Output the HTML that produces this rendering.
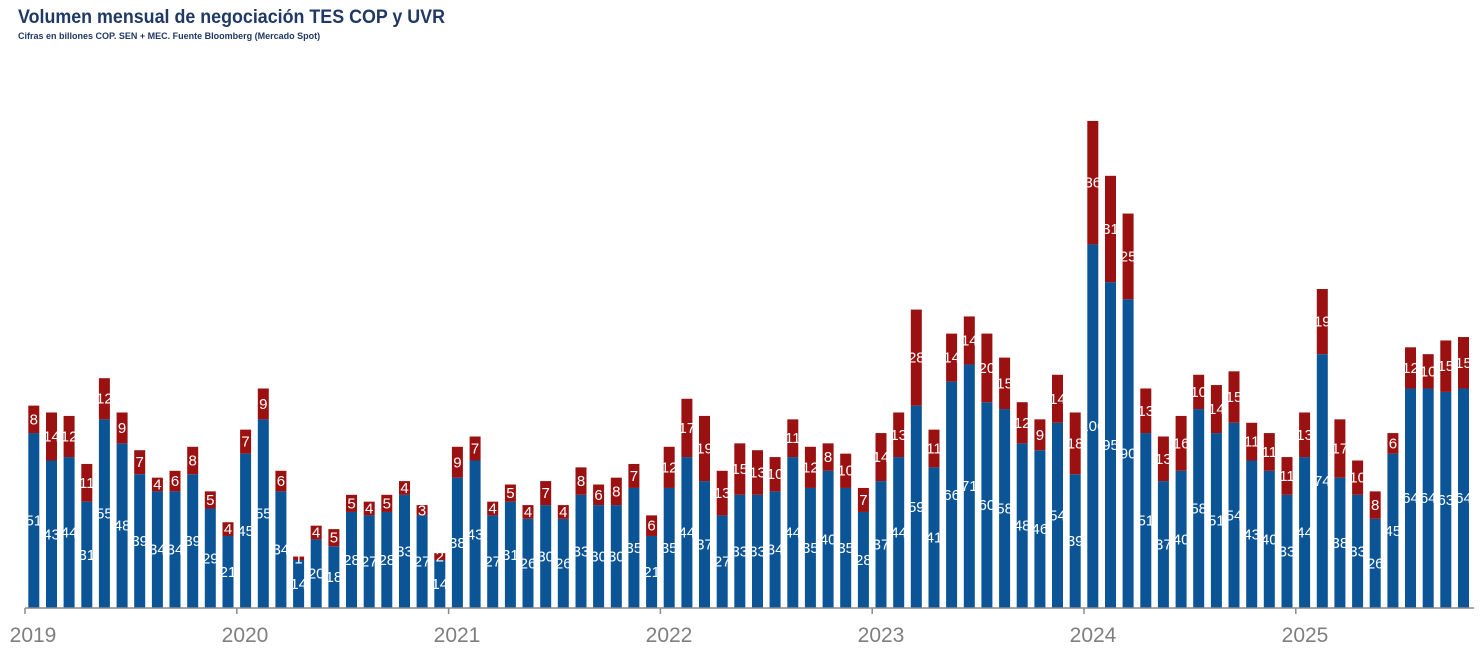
<!DOCTYPE html>
<html><head><meta charset="utf-8"><style>
body{margin:0;background:#fff;width:1482px;height:662px;overflow:hidden}
svg{display:block;font-family:"Liberation Sans",sans-serif}
.t{fill:#fff;font-size:15px;text-anchor:middle}
.y{fill:#7f7f7f;font-size:21px;text-anchor:middle}
.b{fill:#0b5596}.r{fill:#9b1111}
</style></head><body>
<svg width="1482" height="662" viewBox="0 0 1482 662" xmlns="http://www.w3.org/2000/svg">
<text x="18" y="23" font-size="19" font-weight="bold" fill="#1f3864" textLength="427" lengthAdjust="spacingAndGlyphs">Volumen mensual de negociación TES COP y UVR</text>
<text x="18" y="39" font-size="9" font-weight="bold" fill="#1f3864">Cifras en billones COP. SEN + MEC. Fuente Bloomberg (Mercado Spot)</text>
<g id="bars">
<g transform="translate(33.8,608) scale(1,-3.43)"><rect class="b" x="-5.5" width="11" height="51"/><rect class="r" x="-5.5" y="51" width="11" height="8"/></g>
<g transform="translate(51.5,608) scale(1,-3.43)"><rect class="b" x="-5.5" width="11" height="43"/><rect class="r" x="-5.5" y="43" width="11" height="14"/></g>
<g transform="translate(69.1,608) scale(1,-3.43)"><rect class="b" x="-5.5" width="11" height="44"/><rect class="r" x="-5.5" y="44" width="11" height="12"/></g>
<g transform="translate(86.8,608) scale(1,-3.43)"><rect class="b" x="-5.5" width="11" height="31"/><rect class="r" x="-5.5" y="31" width="11" height="11"/></g>
<g transform="translate(104.4,608) scale(1,-3.43)"><rect class="b" x="-5.5" width="11" height="55"/><rect class="r" x="-5.5" y="55" width="11" height="12"/></g>
<g transform="translate(122.1,608) scale(1,-3.43)"><rect class="b" x="-5.5" width="11" height="48"/><rect class="r" x="-5.5" y="48" width="11" height="9"/></g>
<g transform="translate(139.7,608) scale(1,-3.43)"><rect class="b" x="-5.5" width="11" height="39"/><rect class="r" x="-5.5" y="39" width="11" height="7"/></g>
<g transform="translate(157.4,608) scale(1,-3.43)"><rect class="b" x="-5.5" width="11" height="34"/><rect class="r" x="-5.5" y="34" width="11" height="4"/></g>
<g transform="translate(175.0,608) scale(1,-3.43)"><rect class="b" x="-5.5" width="11" height="34"/><rect class="r" x="-5.5" y="34" width="11" height="6"/></g>
<g transform="translate(192.7,608) scale(1,-3.43)"><rect class="b" x="-5.5" width="11" height="39"/><rect class="r" x="-5.5" y="39" width="11" height="8"/></g>
<g transform="translate(210.3,608) scale(1,-3.43)"><rect class="b" x="-5.5" width="11" height="29"/><rect class="r" x="-5.5" y="29" width="11" height="5"/></g>
<g transform="translate(228.0,608) scale(1,-3.43)"><rect class="b" x="-5.5" width="11" height="21"/><rect class="r" x="-5.5" y="21" width="11" height="4"/></g>
<g transform="translate(245.6,608) scale(1,-3.43)"><rect class="b" x="-5.5" width="11" height="45"/><rect class="r" x="-5.5" y="45" width="11" height="7"/></g>
<g transform="translate(263.3,608) scale(1,-3.43)"><rect class="b" x="-5.5" width="11" height="55"/><rect class="r" x="-5.5" y="55" width="11" height="9"/></g>
<g transform="translate(280.9,608) scale(1,-3.43)"><rect class="b" x="-5.5" width="11" height="34"/><rect class="r" x="-5.5" y="34" width="11" height="6"/></g>
<g transform="translate(298.6,608) scale(1,-3.43)"><rect class="b" x="-5.5" width="11" height="14"/><rect class="r" x="-5.5" y="14" width="11" height="1"/></g>
<g transform="translate(316.2,608) scale(1,-3.43)"><rect class="b" x="-5.5" width="11" height="20"/><rect class="r" x="-5.5" y="20" width="11" height="4"/></g>
<g transform="translate(333.9,608) scale(1,-3.43)"><rect class="b" x="-5.5" width="11" height="18"/><rect class="r" x="-5.5" y="18" width="11" height="5"/></g>
<g transform="translate(351.5,608) scale(1,-3.43)"><rect class="b" x="-5.5" width="11" height="28"/><rect class="r" x="-5.5" y="28" width="11" height="5"/></g>
<g transform="translate(369.2,608) scale(1,-3.43)"><rect class="b" x="-5.5" width="11" height="27"/><rect class="r" x="-5.5" y="27" width="11" height="4"/></g>
<g transform="translate(386.8,608) scale(1,-3.43)"><rect class="b" x="-5.5" width="11" height="28"/><rect class="r" x="-5.5" y="28" width="11" height="5"/></g>
<g transform="translate(404.5,608) scale(1,-3.43)"><rect class="b" x="-5.5" width="11" height="33"/><rect class="r" x="-5.5" y="33" width="11" height="4"/></g>
<g transform="translate(422.1,608) scale(1,-3.43)"><rect class="b" x="-5.5" width="11" height="27"/><rect class="r" x="-5.5" y="27" width="11" height="3"/></g>
<g transform="translate(439.8,608) scale(1,-3.43)"><rect class="b" x="-5.5" width="11" height="14"/><rect class="r" x="-5.5" y="14" width="11" height="2"/></g>
<g transform="translate(457.4,608) scale(1,-3.43)"><rect class="b" x="-5.5" width="11" height="38"/><rect class="r" x="-5.5" y="38" width="11" height="9"/></g>
<g transform="translate(475.1,608) scale(1,-3.43)"><rect class="b" x="-5.5" width="11" height="43"/><rect class="r" x="-5.5" y="43" width="11" height="7"/></g>
<g transform="translate(492.7,608) scale(1,-3.43)"><rect class="b" x="-5.5" width="11" height="27"/><rect class="r" x="-5.5" y="27" width="11" height="4"/></g>
<g transform="translate(510.4,608) scale(1,-3.43)"><rect class="b" x="-5.5" width="11" height="31"/><rect class="r" x="-5.5" y="31" width="11" height="5"/></g>
<g transform="translate(528.0,608) scale(1,-3.43)"><rect class="b" x="-5.5" width="11" height="26"/><rect class="r" x="-5.5" y="26" width="11" height="4"/></g>
<g transform="translate(545.7,608) scale(1,-3.43)"><rect class="b" x="-5.5" width="11" height="30"/><rect class="r" x="-5.5" y="30" width="11" height="7"/></g>
<g transform="translate(563.3,608) scale(1,-3.43)"><rect class="b" x="-5.5" width="11" height="26"/><rect class="r" x="-5.5" y="26" width="11" height="4"/></g>
<g transform="translate(581.0,608) scale(1,-3.43)"><rect class="b" x="-5.5" width="11" height="33"/><rect class="r" x="-5.5" y="33" width="11" height="8"/></g>
<g transform="translate(598.6,608) scale(1,-3.43)"><rect class="b" x="-5.5" width="11" height="30"/><rect class="r" x="-5.5" y="30" width="11" height="6"/></g>
<g transform="translate(616.3,608) scale(1,-3.43)"><rect class="b" x="-5.5" width="11" height="30"/><rect class="r" x="-5.5" y="30" width="11" height="8"/></g>
<g transform="translate(633.9,608) scale(1,-3.43)"><rect class="b" x="-5.5" width="11" height="35"/><rect class="r" x="-5.5" y="35" width="11" height="7"/></g>
<g transform="translate(651.6,608) scale(1,-3.43)"><rect class="b" x="-5.5" width="11" height="21"/><rect class="r" x="-5.5" y="21" width="11" height="6"/></g>
<g transform="translate(669.2,608) scale(1,-3.43)"><rect class="b" x="-5.5" width="11" height="35"/><rect class="r" x="-5.5" y="35" width="11" height="12"/></g>
<g transform="translate(686.9,608) scale(1,-3.43)"><rect class="b" x="-5.5" width="11" height="44"/><rect class="r" x="-5.5" y="44" width="11" height="17"/></g>
<g transform="translate(704.5,608) scale(1,-3.43)"><rect class="b" x="-5.5" width="11" height="37"/><rect class="r" x="-5.5" y="37" width="11" height="19"/></g>
<g transform="translate(722.2,608) scale(1,-3.43)"><rect class="b" x="-5.5" width="11" height="27"/><rect class="r" x="-5.5" y="27" width="11" height="13"/></g>
<g transform="translate(739.8,608) scale(1,-3.43)"><rect class="b" x="-5.5" width="11" height="33"/><rect class="r" x="-5.5" y="33" width="11" height="15"/></g>
<g transform="translate(757.5,608) scale(1,-3.43)"><rect class="b" x="-5.5" width="11" height="33"/><rect class="r" x="-5.5" y="33" width="11" height="13"/></g>
<g transform="translate(775.1,608) scale(1,-3.43)"><rect class="b" x="-5.5" width="11" height="34"/><rect class="r" x="-5.5" y="34" width="11" height="10"/></g>
<g transform="translate(792.8,608) scale(1,-3.43)"><rect class="b" x="-5.5" width="11" height="44"/><rect class="r" x="-5.5" y="44" width="11" height="11"/></g>
<g transform="translate(810.4,608) scale(1,-3.43)"><rect class="b" x="-5.5" width="11" height="35"/><rect class="r" x="-5.5" y="35" width="11" height="12"/></g>
<g transform="translate(828.1,608) scale(1,-3.43)"><rect class="b" x="-5.5" width="11" height="40"/><rect class="r" x="-5.5" y="40" width="11" height="8"/></g>
<g transform="translate(845.7,608) scale(1,-3.43)"><rect class="b" x="-5.5" width="11" height="35"/><rect class="r" x="-5.5" y="35" width="11" height="10"/></g>
<g transform="translate(863.4,608) scale(1,-3.43)"><rect class="b" x="-5.5" width="11" height="28"/><rect class="r" x="-5.5" y="28" width="11" height="7"/></g>
<g transform="translate(881.0,608) scale(1,-3.43)"><rect class="b" x="-5.5" width="11" height="37"/><rect class="r" x="-5.5" y="37" width="11" height="14"/></g>
<g transform="translate(898.7,608) scale(1,-3.43)"><rect class="b" x="-5.5" width="11" height="44"/><rect class="r" x="-5.5" y="44" width="11" height="13"/></g>
<g transform="translate(916.3,608) scale(1,-3.43)"><rect class="b" x="-5.5" width="11" height="59"/><rect class="r" x="-5.5" y="59" width="11" height="28"/></g>
<g transform="translate(934.0,608) scale(1,-3.43)"><rect class="b" x="-5.5" width="11" height="41"/><rect class="r" x="-5.5" y="41" width="11" height="11"/></g>
<g transform="translate(951.6,608) scale(1,-3.43)"><rect class="b" x="-5.5" width="11" height="66"/><rect class="r" x="-5.5" y="66" width="11" height="14"/></g>
<g transform="translate(969.3,608) scale(1,-3.43)"><rect class="b" x="-5.5" width="11" height="71"/><rect class="r" x="-5.5" y="71" width="11" height="14"/></g>
<g transform="translate(986.9,608) scale(1,-3.43)"><rect class="b" x="-5.5" width="11" height="60"/><rect class="r" x="-5.5" y="60" width="11" height="20"/></g>
<g transform="translate(1004.6,608) scale(1,-3.43)"><rect class="b" x="-5.5" width="11" height="58"/><rect class="r" x="-5.5" y="58" width="11" height="15"/></g>
<g transform="translate(1022.2,608) scale(1,-3.43)"><rect class="b" x="-5.5" width="11" height="48"/><rect class="r" x="-5.5" y="48" width="11" height="12"/></g>
<g transform="translate(1039.9,608) scale(1,-3.43)"><rect class="b" x="-5.5" width="11" height="46"/><rect class="r" x="-5.5" y="46" width="11" height="9"/></g>
<g transform="translate(1057.5,608) scale(1,-3.43)"><rect class="b" x="-5.5" width="11" height="54"/><rect class="r" x="-5.5" y="54" width="11" height="14"/></g>
<g transform="translate(1075.2,608) scale(1,-3.43)"><rect class="b" x="-5.5" width="11" height="39"/><rect class="r" x="-5.5" y="39" width="11" height="18"/></g>
<g transform="translate(1092.8,608) scale(1,-3.43)"><rect class="b" x="-5.5" width="11" height="106"/><rect class="r" x="-5.5" y="106" width="11" height="36"/></g>
<g transform="translate(1110.5,608) scale(1,-3.43)"><rect class="b" x="-5.5" width="11" height="95"/><rect class="r" x="-5.5" y="95" width="11" height="31"/></g>
<g transform="translate(1128.1,608) scale(1,-3.43)"><rect class="b" x="-5.5" width="11" height="90"/><rect class="r" x="-5.5" y="90" width="11" height="25"/></g>
<g transform="translate(1145.8,608) scale(1,-3.43)"><rect class="b" x="-5.5" width="11" height="51"/><rect class="r" x="-5.5" y="51" width="11" height="13"/></g>
<g transform="translate(1163.4,608) scale(1,-3.43)"><rect class="b" x="-5.5" width="11" height="37"/><rect class="r" x="-5.5" y="37" width="11" height="13"/></g>
<g transform="translate(1181.1,608) scale(1,-3.43)"><rect class="b" x="-5.5" width="11" height="40"/><rect class="r" x="-5.5" y="40" width="11" height="16"/></g>
<g transform="translate(1198.7,608) scale(1,-3.43)"><rect class="b" x="-5.5" width="11" height="58"/><rect class="r" x="-5.5" y="58" width="11" height="10"/></g>
<g transform="translate(1216.4,608) scale(1,-3.43)"><rect class="b" x="-5.5" width="11" height="51"/><rect class="r" x="-5.5" y="51" width="11" height="14"/></g>
<g transform="translate(1234.0,608) scale(1,-3.43)"><rect class="b" x="-5.5" width="11" height="54"/><rect class="r" x="-5.5" y="54" width="11" height="15"/></g>
<g transform="translate(1251.7,608) scale(1,-3.43)"><rect class="b" x="-5.5" width="11" height="43"/><rect class="r" x="-5.5" y="43" width="11" height="11"/></g>
<g transform="translate(1269.3,608) scale(1,-3.43)"><rect class="b" x="-5.5" width="11" height="40"/><rect class="r" x="-5.5" y="40" width="11" height="11"/></g>
<g transform="translate(1287.0,608) scale(1,-3.43)"><rect class="b" x="-5.5" width="11" height="33"/><rect class="r" x="-5.5" y="33" width="11" height="11"/></g>
<g transform="translate(1304.6,608) scale(1,-3.43)"><rect class="b" x="-5.5" width="11" height="44"/><rect class="r" x="-5.5" y="44" width="11" height="13"/></g>
<g transform="translate(1322.3,608) scale(1,-3.43)"><rect class="b" x="-5.5" width="11" height="74"/><rect class="r" x="-5.5" y="74" width="11" height="19"/></g>
<g transform="translate(1339.9,608) scale(1,-3.43)"><rect class="b" x="-5.5" width="11" height="38"/><rect class="r" x="-5.5" y="38" width="11" height="17"/></g>
<g transform="translate(1357.6,608) scale(1,-3.43)"><rect class="b" x="-5.5" width="11" height="33"/><rect class="r" x="-5.5" y="33" width="11" height="10"/></g>
<g transform="translate(1375.2,608) scale(1,-3.43)"><rect class="b" x="-5.5" width="11" height="26"/><rect class="r" x="-5.5" y="26" width="11" height="8"/></g>
<g transform="translate(1392.9,608) scale(1,-3.43)"><rect class="b" x="-5.5" width="11" height="45"/><rect class="r" x="-5.5" y="45" width="11" height="6"/></g>
<g transform="translate(1410.5,608) scale(1,-3.43)"><rect class="b" x="-5.5" width="11" height="64"/><rect class="r" x="-5.5" y="64" width="11" height="12"/></g>
<g transform="translate(1428.2,608) scale(1,-3.43)"><rect class="b" x="-5.5" width="11" height="64"/><rect class="r" x="-5.5" y="64" width="11" height="10"/></g>
<g transform="translate(1445.8,608) scale(1,-3.43)"><rect class="b" x="-5.5" width="11" height="63"/><rect class="r" x="-5.5" y="63" width="11" height="15"/></g>
<g transform="translate(1463.5,608) scale(1,-3.43)"><rect class="b" x="-5.5" width="11" height="64"/><rect class="r" x="-5.5" y="64" width="11" height="15"/></g>
</g>
<g>
<text class="t" x="33.8" y="525.5">51</text><text class="t" x="33.8" y="424.4">8</text>
<text class="t" x="51.5" y="539.3">43</text><text class="t" x="51.5" y="441.5">14</text>
<text class="t" x="69.1" y="537.5">44</text><text class="t" x="69.1" y="441.5">12</text>
<text class="t" x="86.8" y="559.8">31</text><text class="t" x="86.8" y="487.8">11</text>
<text class="t" x="104.4" y="518.7">55</text><text class="t" x="104.4" y="403.7">12</text>
<text class="t" x="122.1" y="530.7">48</text><text class="t" x="122.1" y="433.0">9</text>
<text class="t" x="139.7" y="546.1">39</text><text class="t" x="139.7" y="467.2">7</text>
<text class="t" x="157.4" y="554.7">34</text><text class="t" x="157.4" y="489.5">4</text>
<text class="t" x="175.0" y="554.7">34</text><text class="t" x="175.0" y="486.1">6</text>
<text class="t" x="192.7" y="546.1">39</text><text class="t" x="192.7" y="465.5">8</text>
<text class="t" x="210.3" y="563.3">29</text><text class="t" x="210.3" y="504.9">5</text>
<text class="t" x="228.0" y="577.0">21</text><text class="t" x="228.0" y="534.1">4</text>
<text class="t" x="245.6" y="535.8">45</text><text class="t" x="245.6" y="446.6">7</text>
<text class="t" x="263.3" y="518.7">55</text><text class="t" x="263.3" y="408.9">9</text>
<text class="t" x="280.9" y="554.7">34</text><text class="t" x="280.9" y="486.1">6</text>
<text class="t" x="298.6" y="589.0">14</text><text class="t" x="298.6" y="563.3">1</text>
<text class="t" x="316.2" y="578.7">20</text><text class="t" x="316.2" y="537.5">4</text>
<text class="t" x="333.9" y="582.1">18</text><text class="t" x="333.9" y="542.7">5</text>
<text class="t" x="351.5" y="565.0">28</text><text class="t" x="351.5" y="508.4">5</text>
<text class="t" x="369.2" y="566.7">27</text><text class="t" x="369.2" y="513.5">4</text>
<text class="t" x="386.8" y="565.0">28</text><text class="t" x="386.8" y="508.4">5</text>
<text class="t" x="404.5" y="556.4">33</text><text class="t" x="404.5" y="492.9">4</text>
<text class="t" x="422.1" y="566.7">27</text><text class="t" x="422.1" y="515.3">3</text>
<text class="t" x="439.8" y="589.0">14</text><text class="t" x="439.8" y="561.6">2</text>
<text class="t" x="457.4" y="547.8">38</text><text class="t" x="457.4" y="467.3">9</text>
<text class="t" x="475.1" y="539.3">43</text><text class="t" x="475.1" y="453.5">7</text>
<text class="t" x="492.7" y="566.7">27</text><text class="t" x="492.7" y="513.5">4</text>
<text class="t" x="510.4" y="559.8">31</text><text class="t" x="510.4" y="498.1">5</text>
<text class="t" x="528.0" y="568.4">26</text><text class="t" x="528.0" y="516.9">4</text>
<text class="t" x="545.7" y="561.5">30</text><text class="t" x="545.7" y="498.1">7</text>
<text class="t" x="563.3" y="568.4">26</text><text class="t" x="563.3" y="516.9">4</text>
<text class="t" x="581.0" y="556.4">33</text><text class="t" x="581.0" y="486.1">8</text>
<text class="t" x="598.6" y="561.5">30</text><text class="t" x="598.6" y="499.8">6</text>
<text class="t" x="616.3" y="561.5">30</text><text class="t" x="616.3" y="496.4">8</text>
<text class="t" x="633.9" y="553.0">35</text><text class="t" x="633.9" y="480.9">7</text>
<text class="t" x="651.6" y="577.0">21</text><text class="t" x="651.6" y="530.7">6</text>
<text class="t" x="669.2" y="553.0">35</text><text class="t" x="669.2" y="472.3">12</text>
<text class="t" x="686.9" y="537.5">44</text><text class="t" x="686.9" y="432.9">17</text>
<text class="t" x="704.5" y="549.5">37</text><text class="t" x="704.5" y="453.5">19</text>
<text class="t" x="722.2" y="566.7">27</text><text class="t" x="722.2" y="498.1">13</text>
<text class="t" x="739.8" y="556.4">33</text><text class="t" x="739.8" y="474.1">15</text>
<text class="t" x="757.5" y="556.4">33</text><text class="t" x="757.5" y="477.5">13</text>
<text class="t" x="775.1" y="554.7">34</text><text class="t" x="775.1" y="479.2">10</text>
<text class="t" x="792.8" y="537.5">44</text><text class="t" x="792.8" y="443.2">11</text>
<text class="t" x="810.4" y="553.0">35</text><text class="t" x="810.4" y="472.3">12</text>
<text class="t" x="828.1" y="544.4">40</text><text class="t" x="828.1" y="462.1">8</text>
<text class="t" x="845.7" y="553.0">35</text><text class="t" x="845.7" y="475.7">10</text>
<text class="t" x="863.4" y="565.0">28</text><text class="t" x="863.4" y="505.0">7</text>
<text class="t" x="881.0" y="549.5">37</text><text class="t" x="881.0" y="462.1">14</text>
<text class="t" x="898.7" y="537.5">44</text><text class="t" x="898.7" y="439.8">13</text>
<text class="t" x="916.3" y="511.8">59</text><text class="t" x="916.3" y="362.6">28</text>
<text class="t" x="934.0" y="542.7">41</text><text class="t" x="934.0" y="453.5">11</text>
<text class="t" x="951.6" y="499.8">66</text><text class="t" x="951.6" y="362.6">14</text>
<text class="t" x="969.3" y="491.2">71</text><text class="t" x="969.3" y="345.5">14</text>
<text class="t" x="986.9" y="510.1">60</text><text class="t" x="986.9" y="372.9">20</text>
<text class="t" x="1004.6" y="513.5">58</text><text class="t" x="1004.6" y="388.4">15</text>
<text class="t" x="1022.2" y="530.7">48</text><text class="t" x="1022.2" y="427.8">12</text>
<text class="t" x="1039.9" y="534.1">46</text><text class="t" x="1039.9" y="439.8">9</text>
<text class="t" x="1057.5" y="520.4">54</text><text class="t" x="1057.5" y="403.8">14</text>
<text class="t" x="1075.2" y="546.1">39</text><text class="t" x="1075.2" y="448.3">18</text>
<text class="t" x="1092.8" y="431.2">106</text><text class="t" x="1092.8" y="187.7">36</text>
<text class="t" x="1110.5" y="450.1">95</text><text class="t" x="1110.5" y="233.9">31</text>
<text class="t" x="1128.1" y="458.6">90</text><text class="t" x="1128.1" y="261.4">25</text>
<text class="t" x="1145.8" y="525.5">51</text><text class="t" x="1145.8" y="415.8">13</text>
<text class="t" x="1163.4" y="549.5">37</text><text class="t" x="1163.4" y="463.8">13</text>
<text class="t" x="1181.1" y="544.4">40</text><text class="t" x="1181.1" y="448.4">16</text>
<text class="t" x="1198.7" y="513.5">58</text><text class="t" x="1198.7" y="396.9">10</text>
<text class="t" x="1216.4" y="525.5">51</text><text class="t" x="1216.4" y="414.1">14</text>
<text class="t" x="1234.0" y="520.4">54</text><text class="t" x="1234.0" y="402.1">15</text>
<text class="t" x="1251.7" y="539.3">43</text><text class="t" x="1251.7" y="446.6">11</text>
<text class="t" x="1269.3" y="544.4">40</text><text class="t" x="1269.3" y="456.9">11</text>
<text class="t" x="1287.0" y="556.4">33</text><text class="t" x="1287.0" y="480.9">11</text>
<text class="t" x="1304.6" y="537.5">44</text><text class="t" x="1304.6" y="439.8">13</text>
<text class="t" x="1322.3" y="486.1">74</text><text class="t" x="1322.3" y="326.6">19</text>
<text class="t" x="1339.9" y="547.8">38</text><text class="t" x="1339.9" y="453.5">17</text>
<text class="t" x="1357.6" y="556.4">33</text><text class="t" x="1357.6" y="482.6">10</text>
<text class="t" x="1375.2" y="568.4">26</text><text class="t" x="1375.2" y="510.1">8</text>
<text class="t" x="1392.9" y="535.8">45</text><text class="t" x="1392.9" y="448.3">6</text>
<text class="t" x="1410.5" y="503.2">64</text><text class="t" x="1410.5" y="372.9">12</text>
<text class="t" x="1428.2" y="503.2">64</text><text class="t" x="1428.2" y="376.3">10</text>
<text class="t" x="1445.8" y="505.0">63</text><text class="t" x="1445.8" y="371.2">15</text>
<text class="t" x="1463.5" y="503.2">64</text><text class="t" x="1463.5" y="367.8">15</text>
</g>
<g stroke="#8a8a8a" stroke-width="1.5" fill="none">
<line x1="25" y1="608" x2="1474" y2="608"/>
<line x1="25" y1="608" x2="25" y2="614"/>
<line x1="236.8" y1="608" x2="236.8" y2="614"/>
<line x1="448.6" y1="608" x2="448.6" y2="614"/>
<line x1="660.4" y1="608" x2="660.4" y2="614"/>
<line x1="872.2" y1="608" x2="872.2" y2="614"/>
<line x1="1084" y1="608" x2="1084" y2="614"/>
<line x1="1295.8" y1="608" x2="1295.8" y2="614"/>
</g>
<text class="y" x="33" y="642">2019</text>
<text class="y" x="245" y="642">2020</text>
<text class="y" x="457" y="642">2021</text>
<text class="y" x="669" y="642">2022</text>
<text class="y" x="881" y="642">2023</text>
<text class="y" x="1093" y="642">2024</text>
<text class="y" x="1305" y="642">2025</text>
</svg>
</body></html>
